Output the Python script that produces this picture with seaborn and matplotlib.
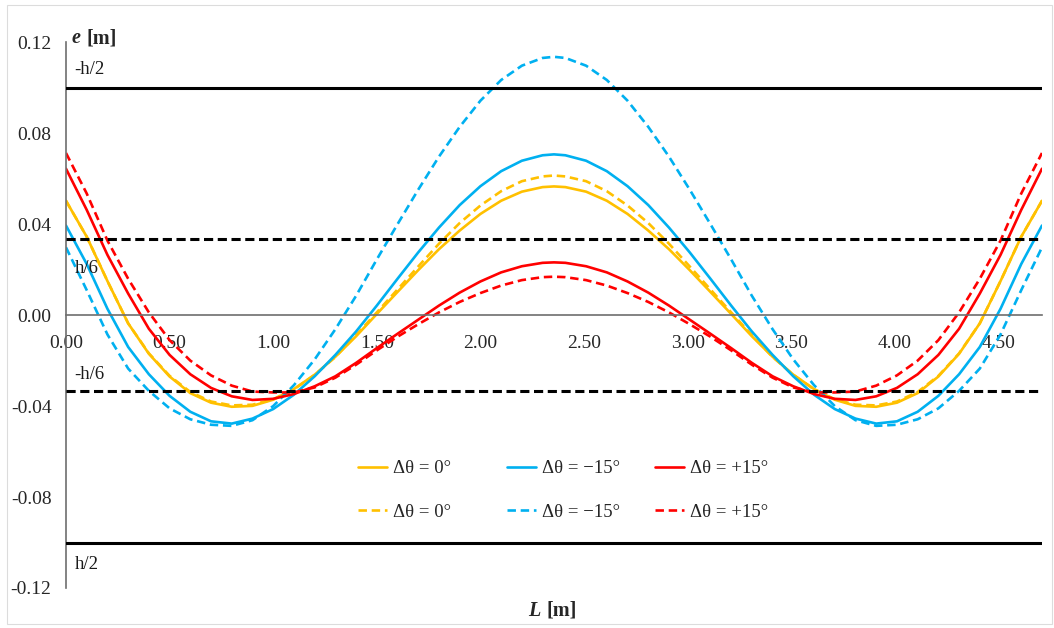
import matplotlib
matplotlib.use('Agg')
import matplotlib.pyplot as plt
import seaborn as sns
from matplotlib.patches import Rectangle

# positions along the span L [m]
xPos = [0.00, 0.10, 0.20, 0.30, 0.40, 0.50, 0.60, 0.70, 0.80, 0.90, 1.00, 1.10,
        1.20, 1.30, 1.40, 1.50, 1.60, 1.70, 1.80, 1.90, 2.00, 2.10, 2.20, 2.30,
        2.355,
        2.41, 2.51, 2.61, 2.71, 2.81, 2.91, 3.01, 3.11, 3.21, 3.31, 3.41, 3.51,
        3.61, 3.71, 3.81, 3.91, 4.01, 4.11, 4.21, 4.31, 4.41, 4.51, 4.61, 4.71]

# eccentricity e [m], solid curves
zeroSolid = [0.0503, 0.0345, 0.0150, -0.0036, -0.0170, -0.0270, -0.0343, -0.0385,
             -0.0403, -0.0399, -0.0372, -0.0325, -0.0262, -0.0183, -0.0093, 0.0005,
             0.0102, 0.0198, 0.0290, 0.0372, 0.0445, 0.0503, 0.0543, 0.0563,
             0.0566,
             0.0563, 0.0543, 0.0503, 0.0445, 0.0372, 0.0290, 0.0198, 0.0102,
             0.0005, -0.0093, -0.0183, -0.0262, -0.0325, -0.0372, -0.0399, -0.0403,
             -0.0385, -0.0343, -0.0270, -0.0170, -0.0036, 0.0150, 0.0345, 0.0503]
minusSolid = [0.0394, 0.0225, 0.0028, -0.0140, -0.0260, -0.0355, -0.0425, -0.0467,
              -0.0477, -0.0455, -0.0413, -0.0350, -0.0269, -0.0175, -0.0072, 0.0042,
              0.0160, 0.0276, 0.0385, 0.0484, 0.0567, 0.0633, 0.0679, 0.0703,
              0.0707,
              0.0703, 0.0679, 0.0633, 0.0567, 0.0484, 0.0385, 0.0276, 0.0160,
              0.0042, -0.0072, -0.0175, -0.0269, -0.0350, -0.0413, -0.0455, -0.0477,
              -0.0467, -0.0425, -0.0355, -0.0260, -0.0140, 0.0028, 0.0225, 0.0394]
plusSolid = [0.0644, 0.0463, 0.0265, 0.0095, -0.0060, -0.0175, -0.0260, -0.0320,
             -0.0357, -0.0373, -0.0368, -0.0347, -0.0313, -0.0269, -0.0210, -0.0145,
             -0.0082, -0.0020, 0.0042, 0.0099, 0.0148, 0.0188, 0.0215, 0.0230,
             0.0232,
             0.0230, 0.0215, 0.0188, 0.0148, 0.0099, 0.0042, -0.0020, -0.0082,
             -0.0145, -0.0210, -0.0269, -0.0313, -0.0347, -0.0368, -0.0373, -0.0357,
             -0.0320, -0.0260, -0.0175, -0.0060, 0.0095, 0.0265, 0.0463, 0.0644]

# eccentricity e [m], dashed curves
zeroDashed = [0.0503, 0.0345, 0.0150, -0.0036, -0.0168, -0.0267, -0.0338, -0.0380,
              -0.0397, -0.0394, -0.0370, -0.0326, -0.0263, -0.0184, -0.0088, 0.0012,
              0.0113, 0.0214, 0.0314, 0.0405, 0.0482, 0.0545, 0.0589, 0.0610,
              0.0614,
              0.0610, 0.0589, 0.0545, 0.0482, 0.0405, 0.0314, 0.0214, 0.0113,
              0.0012, -0.0088, -0.0184, -0.0263, -0.0326, -0.0370, -0.0394, -0.0397,
              -0.0380, -0.0338, -0.0267, -0.0168, -0.0036, 0.0150, 0.0345, 0.0503]
minusDashed = [0.0298, 0.0110, -0.0085, -0.0235, -0.0333, -0.0410, -0.0458, -0.0482,
               -0.0487, -0.0462, -0.0400, -0.0308, -0.0195, -0.0062, 0.0085, 0.0245,
               0.0400, 0.0552, 0.0697, 0.0828, 0.0943, 0.1034, 0.1097, 0.1131,
               0.1136,
               0.1131, 0.1097, 0.1034, 0.0943, 0.0828, 0.0697, 0.0552, 0.0400,
               0.0245, 0.0085, -0.0062, -0.0195, -0.0308, -0.0400, -0.0462, -0.0487,
               -0.0482, -0.0458, -0.0410, -0.0333, -0.0235, -0.0085, 0.0110, 0.0298]
plusDashed = [0.0713, 0.0535, 0.0328, 0.0160, 0.0012, -0.0110, -0.0200, -0.0265,
              -0.0310, -0.0336, -0.0340, -0.0340, -0.0318, -0.0275, -0.0218, -0.0155,
              -0.0095, -0.0040, 0.0012, 0.0058, 0.0097, 0.0130, 0.0154, 0.0167,
              0.0169,
              0.0167, 0.0154, 0.0130, 0.0097, 0.0058, 0.0012, -0.0040, -0.0095,
              -0.0155, -0.0218, -0.0275, -0.0318, -0.0340, -0.0340, -0.0336, -0.0310,
              -0.0265, -0.0200, -0.0110, 0.0012, 0.0160, 0.0328, 0.0535, 0.0713]

seriesLabels = ['\u0394\u03b8 = 0\u00b0', '\u0394\u03b8 = \u221215\u00b0', '\u0394\u03b8 = +15\u00b0']

# section limits (kern / edge of the section)
refLevels = [0.10, 0.0333, -0.0333, -0.10]
refLabels = ['-h/2', 'h/6', '-h/6', 'h/2']

xTicks = [0.0, 0.5, 1.0, 1.5, 2.0, 2.5, 3.0, 3.5, 4.0, 4.5]
yTicks = [-0.12, -0.08, -0.04, 0.0, 0.04, 0.08, 0.12]


def makeViz():
    sns.set_style('white')
    plt.rcParams['font.family'] = ['Liberation Serif', 'DejaVu Serif']
    plt.rcParams['axes.unicode_minus'] = False

    fig = plt.figure(figsize=(10.54, 6.28), dpi=100)
    ax = fig.add_axes([0.0626, 0.0637, 0.926, 0.869])

    colors = ['#FFC000', '#00B0F0', '#FF0000']
    solids = [zeroSolid, minusSolid, plusSolid]
    dashed = [zeroDashed, minusDashed, plusDashed]

    pairs = []
    for idx in range(3):
        sns.lineplot(x=xPos, y=solids[idx], ax=ax, color=colors[idx], linewidth=1.9,
                     sort=False, estimator=None, label=seriesLabels[idx])
        solidLine = ax.lines[-1]
        sns.lineplot(x=xPos, y=dashed[idx], ax=ax, color=colors[idx], linewidth=1.9,
                     linestyle=(0, (3.2, 1.8)), sort=False, estimator=None,
                     label=seriesLabels[idx])
        pairs.append((solidLine, ax.lines[-1]))
    if ax.get_legend() is not None:
        ax.get_legend().remove()

    offsets = [13, -21, 12, -16]
    for level, text, dy in zip(refLevels, refLabels, offsets):
        style = '-' if abs(level) > 0.05 else (0, (3, 1.5))
        ax.axhline(level, color='black', linewidth=2.2, linestyle=style, zorder=5)
        ax.annotate(text, xy=(0, level), xytext=(6, dy), textcoords='offset points',
                    va='center', ha='left', fontsize=13.5, color='#1a1a1a')

    ax.set_xlim(0, 4.71)
    ax.set_ylim(-0.12, 0.12)
    ax.set_xticks(xTicks)
    ax.set_xticklabels([f'{v:.2f}' for v in xTicks])
    ax.set_yticks(yTicks)
    ax.set_yticklabels([f'{v:.2f}' for v in yTicks])

    for side in ['top', 'right']:
        ax.spines[side].set_visible(False)
    ax.spines['bottom'].set_position(('data', 0))
    for side in ['bottom', 'left']:
        ax.spines[side].set_color('#6e6e6e')
        ax.spines[side].set_linewidth(1.2)
    ax.tick_params(direction='inout', length=9, width=1, color='#6e6e6e',
                   labelsize=14, labelcolor='#262626')
    ax.tick_params(axis='x', pad=9.5)
    ax.tick_params(axis='y', pad=6)
    ax.set_xlabel('')
    ax.set_ylabel('')

    # legend: three equal-width columns, solid row on top, dashed row below
    colLeft = [358, 507, 655]
    for (solidLine, dashLine), left in zip(pairs, colLeft):
        fig.legend(handles=[solidLine, dashLine],
                   labels=[solidLine.get_label(), dashLine.get_label()],
                   loc='upper left', bbox_to_anchor=(left / 1054, 1 - 460 / 628),
                   frameon=False, borderpad=0, borderaxespad=0, fontsize=13.5,
                   handlelength=1.55, handletextpad=0.32, labelspacing=1.42)

    # axis titles
    fig.text(72 / 1054, 1 - 38 / 628, 'e', fontsize=14.5, fontweight='bold',
             fontstyle='italic', va='center', ha='left')
    fig.text(86 / 1054, 1 - 38 / 628, '[m]', fontsize=14.5, fontweight='bold',
             va='center', ha='left')
    fig.text(528 / 1054, 1 - 611 / 628, 'L', fontsize=14.5, fontweight='bold',
             fontstyle='italic', va='center', ha='left')
    fig.text(546 / 1054, 1 - 611 / 628, '[m]', fontsize=14.5, fontweight='bold',
             va='center', ha='left')

    fig.patches.append(Rectangle((7 / 1054, 4 / 628), 1045 / 1054, 619 / 628,
                                 transform=fig.transFigure, fill=False,
                                 edgecolor='#dcdcdc', linewidth=0.8))

    fig.savefig('out.png', dpi=100)
    plt.close(fig)


if __name__ == '__main__':
    makeViz()
